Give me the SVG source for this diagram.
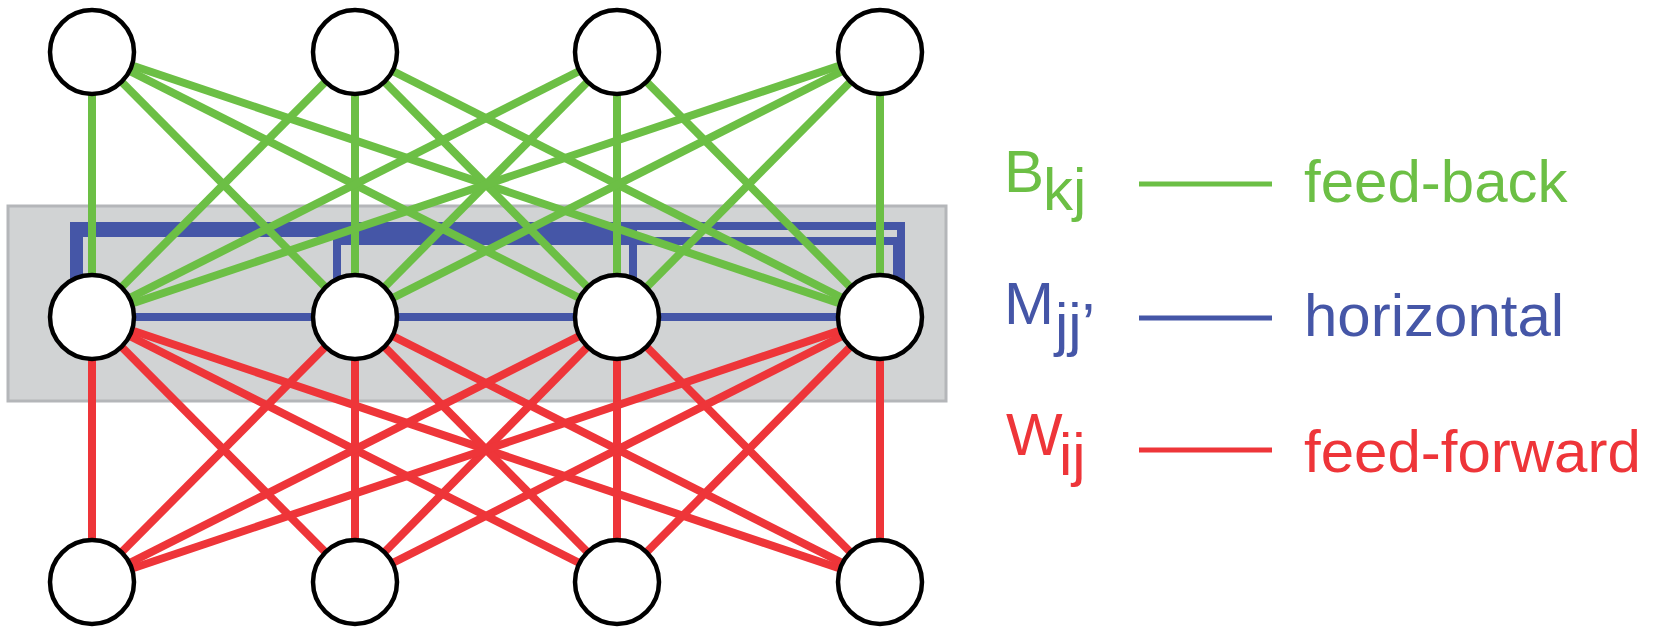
<svg xmlns="http://www.w3.org/2000/svg" width="1655" height="628" viewBox="0 0 1655 628">
  <style>
    .band { fill: #d1d3d4; stroke: #b4b6b9; stroke-width: 3; }
    .fb { stroke: #6cbf45; stroke-width: 8; fill: none; }
    .hz { stroke: #4556a7; stroke-width: 8; fill: none; }
    .ff { stroke: #ee3539; stroke-width: 8; fill: none; }
    .unit { fill: #ffffff; stroke: #000000; stroke-width: 4.5; }
    .lbl { font-family: "Liberation Sans", Arial, Helvetica, sans-serif; font-size: 60px; }
    .g { fill: #6cbf45; }
    .b { fill: #4556a7; }
    .r { fill: #ee3539; }
  </style>

  <!-- highlighted middle layer -->
  <rect class="band" x="8" y="206" width="938" height="195"/>

  <g id="connectors">
    <!-- horizontal (lateral) links within the middle layer -->
    <g id="horizontal">
      <path class="hz" d="M74 300 V226 H901 V300"/>
      <path class="hz" d="M79 300 V233 H633 V300"/>
      <path class="hz" d="M337 300 V241 H897 V300"/>
      <line class="hz" x1="92" y1="317" x2="880" y2="317"/>
    </g>
    <!-- feed-back links: top layer to middle layer -->
    <g id="feedback">
      <line class="fb" x1="92" y1="52" x2="92" y2="317"/>
      <line class="fb" x1="92" y1="52" x2="355" y2="317"/>
      <line class="fb" x1="92" y1="52" x2="617" y2="317"/>
      <line class="fb" x1="92" y1="52" x2="880" y2="317"/>
      <line class="fb" x1="355" y1="52" x2="92" y2="317"/>
      <line class="fb" x1="355" y1="52" x2="355" y2="317"/>
      <line class="fb" x1="355" y1="52" x2="617" y2="317"/>
      <line class="fb" x1="355" y1="52" x2="880" y2="317"/>
      <line class="fb" x1="617" y1="52" x2="92" y2="317"/>
      <line class="fb" x1="617" y1="52" x2="355" y2="317"/>
      <line class="fb" x1="617" y1="52" x2="617" y2="317"/>
      <line class="fb" x1="617" y1="52" x2="880" y2="317"/>
      <line class="fb" x1="880" y1="52" x2="92" y2="317"/>
      <line class="fb" x1="880" y1="52" x2="355" y2="317"/>
      <line class="fb" x1="880" y1="52" x2="617" y2="317"/>
      <line class="fb" x1="880" y1="52" x2="880" y2="317"/>
    </g>
    <!-- feed-forward links: middle layer to bottom layer -->
    <g id="feedforward">
      <line class="ff" x1="92" y1="317" x2="92" y2="582"/>
      <line class="ff" x1="92" y1="317" x2="355" y2="582"/>
      <line class="ff" x1="92" y1="317" x2="617" y2="582"/>
      <line class="ff" x1="92" y1="317" x2="880" y2="582"/>
      <line class="ff" x1="355" y1="317" x2="92" y2="582"/>
      <line class="ff" x1="355" y1="317" x2="355" y2="582"/>
      <line class="ff" x1="355" y1="317" x2="617" y2="582"/>
      <line class="ff" x1="355" y1="317" x2="880" y2="582"/>
      <line class="ff" x1="617" y1="317" x2="92" y2="582"/>
      <line class="ff" x1="617" y1="317" x2="355" y2="582"/>
      <line class="ff" x1="617" y1="317" x2="617" y2="582"/>
      <line class="ff" x1="617" y1="317" x2="880" y2="582"/>
      <line class="ff" x1="880" y1="317" x2="92" y2="582"/>
      <line class="ff" x1="880" y1="317" x2="355" y2="582"/>
      <line class="ff" x1="880" y1="317" x2="617" y2="582"/>
      <line class="ff" x1="880" y1="317" x2="880" y2="582"/>
    </g>
  </g>

  <!-- top layer (k) -->
  <g id="top-1"><circle class="unit" cx="92" cy="52" r="42"/></g>
  <g id="top-2"><circle class="unit" cx="355" cy="52" r="42"/></g>
  <g id="top-3"><circle class="unit" cx="617" cy="52" r="42"/></g>
  <g id="top-4"><circle class="unit" cx="880" cy="52" r="42"/></g>
  <!-- middle layer (j) -->
  <g id="mid-1"><circle class="unit" cx="92" cy="317" r="42"/></g>
  <g id="mid-2"><circle class="unit" cx="355" cy="317" r="42"/></g>
  <g id="mid-3"><circle class="unit" cx="617" cy="317" r="42"/></g>
  <g id="mid-4"><circle class="unit" cx="880" cy="317" r="42"/></g>
  <!-- bottom layer (i) -->
  <g id="bot-1"><circle class="unit" cx="92" cy="582" r="42"/></g>
  <g id="bot-2"><circle class="unit" cx="355" cy="582" r="42"/></g>
  <g id="bot-3"><circle class="unit" cx="617" cy="582" r="42"/></g>
  <g id="bot-4"><circle class="unit" cx="880" cy="582" r="42"/></g>

  <!-- legend -->
  <g id="legend-feedback">
    <text class="lbl g" x="1004" y="192">B</text>
    <text class="lbl g" x="1043" y="210">kj</text>
    <line x1="1139" y1="184" x2="1272" y2="184" stroke="#6cbf45" stroke-width="5"/>
    <text class="lbl g" x="1304" y="202">feed-back</text>
  </g>
  <g id="legend-horizontal">
    <text class="lbl b" x="1004" y="324">M</text>
    <text class="lbl b" x="1055" y="345">jj’</text>
    <line x1="1139" y1="318" x2="1272" y2="318" stroke="#4556a7" stroke-width="5"/>
    <text class="lbl b" x="1304" y="336">horizontal</text>
  </g>
  <g id="legend-feedforward">
    <text class="lbl r" x="1006" y="455">W</text>
    <text class="lbl r" x="1059" y="475">ij</text>
    <line x1="1139" y1="450" x2="1272" y2="450" stroke="#ee3539" stroke-width="5"/>
    <text class="lbl r" x="1304" y="472">feed-forward</text>
  </g>
</svg>
